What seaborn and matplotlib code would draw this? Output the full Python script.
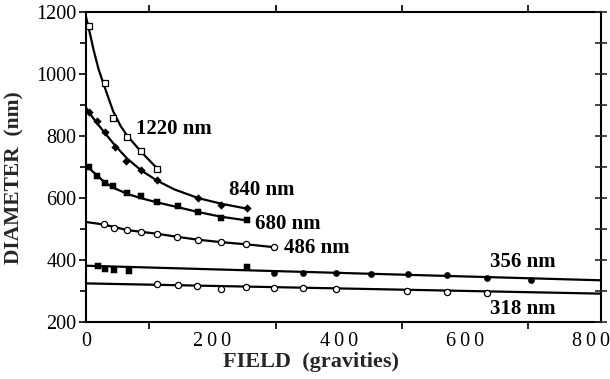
import matplotlib
matplotlib.use("Agg")
import matplotlib.pyplot as plt
import seaborn as sns
from matplotlib.ticker import MultipleLocator

# measured points (field in gravities, diameter in nm)
x1220 = [5, 30, 43, 65, 87, 113]
y1220 = [1155, 970, 857, 798, 752, 693]
x840 = [5, 17, 30, 46, 64, 87, 112, 178, 214, 255]
y840 = [878, 848, 812, 765, 720, 690, 660, 600, 577, 568]
x680 = [5, 17, 30, 43, 65, 87, 113, 145, 178, 214, 255]
y680 = [700, 672, 648, 639, 615, 606, 588, 574, 555, 536, 530]
x486 = [28, 44, 65, 87, 112, 144, 177, 214, 254, 297]
y486 = [516, 505, 497, 490, 485, 475, 465, 458, 452, 442]
x356 = [19, 30, 44, 68, 255, 298, 344, 396, 451, 509, 571, 634, 705]
y356 = [381, 371, 368, 365, 377, 360, 359, 357, 355, 354, 351, 343, 337]
x318 = [113, 145, 176, 214, 254, 297, 344, 396, 508, 571, 634]
y318 = [323, 319, 316, 306, 313, 310, 310, 308, 300, 297, 294]

# fitted curves
fx1220 = [0, 5, 12, 20, 30, 43, 55, 65, 87, 113, 118]
fy1220 = [1185, 1142, 1078, 1015, 955, 880, 832, 802, 750, 695, 686]
fx840 = [0, 10, 20, 30, 45, 65, 87, 112, 140, 178, 214, 255]
fy840 = [892, 862, 835, 810, 772, 728, 690, 657, 628, 600, 582, 566]
fx680 = [0, 15, 30, 45, 65, 87, 113, 145, 178, 214, 255]
fy680 = [705, 678, 650, 632, 614, 600, 586, 571, 555, 540, 528]
fx486 = [0, 28, 65, 113, 145, 177, 214, 254, 297]
fy486 = [523, 515, 497, 485, 475, 466, 458, 451, 442]
fx356 = [0, 815]
fy356 = [382, 335]
fx318 = [0, 815]
fy318 = [325, 292]

sns.set_style("ticks")
plt.rcParams["font.family"] = ["Liberation Serif", "DejaVu Serif"]

fig = plt.figure(figsize=(6.1, 3.79), dpi=100)
ax = fig.add_axes([0.141, 0.150, 0.844, 0.818])

lw = 1.6
for fx, fy in [(fx1220, fy1220), (fx840, fy840), (fx680, fy680),
               (fx486, fy486), (fx356, fy356), (fx318, fy318)]:
    sns.lineplot(x=fx, y=fy, ax=ax, color="black", linewidth=lw, sort=False)

ms = 20
sns.scatterplot(x=x1220, y=y1220, ax=ax, marker="s", color="white",
                edgecolor="black", linewidth=0.9, s=ms, zorder=3)
sns.scatterplot(x=x840, y=y840, ax=ax, marker="D", color="black",
                edgecolor="black", s=15, zorder=3)
sns.scatterplot(x=x680, y=y680, ax=ax, marker="s", color="black",
                edgecolor="black", s=ms, zorder=3)
sns.scatterplot(x=x486, y=y486, ax=ax, marker="o", color="white",
                edgecolor="black", linewidth=0.9, s=ms, zorder=3)
sns.scatterplot(x=x356[:5], y=y356[:5], ax=ax, marker="s", color="black",
                edgecolor="black", s=ms, zorder=3)
sns.scatterplot(x=x356[5:], y=y356[5:], ax=ax, marker="o", color="black",
                edgecolor="black", s=ms, zorder=3)
sns.scatterplot(x=x318, y=y318, ax=ax, marker="o", color="white",
                edgecolor="black", linewidth=0.9, s=ms, zorder=3)

# series labels
lab = dict(fontsize=15, fontweight="bold", color="black", va="center")
ax.text(79, 822, "1220 nm", **lab)
ax.text(227, 626, "840 nm", **lab)
ax.text(267, 516, "680 nm", **lab)
ax.text(314, 439, "486 nm", **lab)
ax.text(640, 394, "356 nm", **lab)
ax.text(640, 242, "318 nm", **lab)

ax.set_xlim(0, 815)
ax.set_ylim(200, 1200)
ax.set_xticks([0, 200, 400, 600, 800])
ax.set_xticklabels(["0", "2\u20090\u20090", "4\u20090\u20090", "6\u20090\u20090", "8\u20090\u20090"])
ax.set_yticks([200, 400, 600, 800, 1000, 1200])
ax.xaxis.set_minor_locator(MultipleLocator(100))
ax.yaxis.set_minor_locator(MultipleLocator(100))

for s in ax.spines.values():
    s.set_linewidth(1.5)
    s.set_color("black")

ax.tick_params(axis="both", which="both", colors="black", labelsize=14.5, width=1.2)
ax.tick_params(axis="x", which="major", length=0, pad=7, bottom=True, top=False)
ax.tick_params(axis="x", which="minor", length=5, direction="out", top=True)
ax.tick_params(axis="y", which="both", length=5, direction="out", pad=2)
ax.tick_params(axis="y", which="minor", length=4)

# right side crossing ticks
ax2 = ax.twinx()
ax2.set_ylim(ax.get_ylim())
ax2.yaxis.set_major_locator(MultipleLocator(100))
ax2.tick_params(axis="y", direction="inout", length=9, width=1.2, labelright=False)
for s in ax2.spines.values():
    s.set_visible(False)

ax.set_xlabel("FIELD  (gravities)", fontsize=16, fontweight="bold")
ax.set_ylabel("DIAMETER  (nm)", fontsize=15.5, fontweight="bold")
ax.xaxis.set_label_coords(0.437, -0.095)
ax.yaxis.set_label_coords(-0.12, 0.465)

fig.savefig("out.png", dpi=100)
